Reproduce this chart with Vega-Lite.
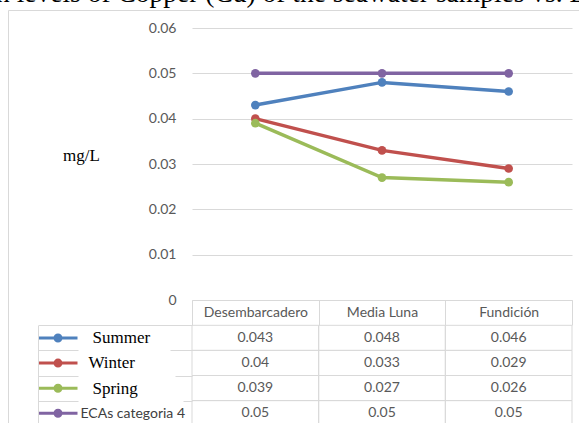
{
  "$schema": "https://vega.github.io/schema/vega-lite/v6.json",
  "width": 575,
  "height": 415,
  "autosize": "none",
  "padding": {"left": 8, "top": 10, "right": -4, "bottom": -2},
  "background": "white",
  "config": {"view": {"stroke": "#d9d9d9", "strokeWidth": 1}, "font": "Lato"},
  "title": {
    "text": "Concentration levels of Copper (Cu) of the seawater samples vs. ECAs",
    "anchor": "start",
    "frame": "group",
    "font": "Liberation Serif",
    "fontSize": 27.5,
    "fontWeight": "normal",
    "color": "#000000",
    "baseline": "alphabetic",
    "offset": 10,
    "dx": -154,
    "dy": 38
  },
  "data": {
    "values": [
      {"site": "Desembarcadero", "series": "Summer", "value": 0.043},
      {"site": "Media Luna", "series": "Summer", "value": 0.048},
      {"site": "Fundición", "series": "Summer", "value": 0.046},
      {"site": "Desembarcadero", "series": "Winter", "value": 0.04},
      {"site": "Media Luna", "series": "Winter", "value": 0.033},
      {"site": "Fundición", "series": "Winter", "value": 0.029},
      {"site": "Desembarcadero", "series": "Spring", "value": 0.039},
      {"site": "Media Luna", "series": "Spring", "value": 0.027},
      {"site": "Fundición", "series": "Spring", "value": 0.026},
      {"site": "Desembarcadero", "series": "ECAs categoria 4", "value": 0.05},
      {"site": "Media Luna", "series": "ECAs categoria 4", "value": 0.05},
      {"site": "Fundición", "series": "ECAs categoria 4", "value": 0.05}
    ]
  },
  "layer": [
    {
      "encoding": {
        "x": {
          "field": "site", "type": "nominal",
          "sort": ["Desembarcadero", "Media Luna", "Fundición"],
          "scale": {"type": "band", "range": [184, 564], "paddingInner": 0, "paddingOuter": 0},
          "axis": {
            "orient": "bottom", "offset": -125, "title": null,
            "domainColor": "#d9d9d9", "tickColor": "#d9d9d9", "tickSize": 25,
            "tickBand": "extent", "labelAngle": 0, "labelPadding": -12.5,
            "labelBaseline": "middle", "labelFont": "Lato", "labelFontSize": 14,
            "labelColor": "#595959", "grid": false, "labelOverlap": false
          }
        },
        "y": {
          "field": "value", "type": "quantitative",
          "scale": {"domain": [0, 0.06], "range": [290, 18], "nice": false},
          "axis": {
            "orient": "left", "offset": -184, "title": "mg/L", "titleAngle": 0,
            "titleFont": "Liberation Serif", "titleFontSize": 17,
            "titleFontWeight": "normal", "titleColor": "#000000",
            "titleX": -111, "titleY": 145, "titleAlign": "center", "titleBaseline": "middle",
            "values": [0, 0.01, 0.02, 0.03, 0.04, 0.05, 0.06], "format": "~g",
            "domain": false, "ticks": false, "labelPadding": 16,
            "labelFont": "Lato", "labelFontSize": 14, "labelColor": "#595959",
            "grid": true, "gridColor": "#d9d9d9"
          }
        },
        "color": {
          "field": "series", "type": "nominal",
          "sort": ["Summer", "Winter", "Spring", "ECAs categoria 4"],
          "scale": {
            "domain": ["Summer", "Winter", "Spring", "ECAs categoria 4"],
            "range": ["#4F81BD", "#C0504D", "#9BBB59", "#8064A2"]
          },
          "legend": {
            "orient": "none", "legendX": 23.5, "legendY": 315.5, "title": null,
            "padding": 0, "rowPadding": 0.1, "clipHeight": 25,
            "labelOpacity": 0, "labelFontSize": 12, "labelExpr": "''", "labelOffset": 40,
            "symbolOffset": 20,
            "symbolType": "M-3.9,0H3.9M-0.6,0A0.6,0.6,0,1,1,0.6,0A0.6,0.6,0,1,1,-0.6,0Z",
            "symbolSize": 100, "symbolStrokeWidth": 3, "symbolOpacity": 1
          }
        }
      },
      "layer": [
        {"mark": {"type": "line", "strokeWidth": 3.5}},
        {"mark": {"type": "point", "filled": true, "size": 75, "opacity": 1}}
      ]
    },
    {
      "encoding": {
        "x": {
          "field": "site", "type": "nominal",
          "sort": ["Desembarcadero", "Media Luna", "Fundición"],
          "scale": {"type": "band", "range": [184, 564], "paddingInner": 0, "paddingOuter": 0},
          "axis": {
            "orient": "bottom", "offset": -125, "title": null,
            "domainColor": "#d9d9d9", "tickColor": "#d9d9d9", "tickSize": 25,
            "tickBand": "extent", "labelAngle": 0, "labelPadding": -12.5,
            "labelBaseline": "middle", "labelFont": "Lato", "labelFontSize": 14,
            "labelColor": "#595959", "grid": false, "labelOverlap": false
          }
        },
        "y": {
          "field": "series", "type": "nominal",
          "sort": ["Summer", "Winter", "Spring", "ECAs categoria 4"],
          "scale": {
            "domain": ["Summer", "Winter", "Spring", "ECAs categoria 4"],
            "range": [315.3, 415.7], "paddingInner": 0, "paddingOuter": 0
          },
          "axis": {
            "orient": "left", "offset": -30, "title": null,
            "domain": true, "domainColor": "#d9d9d9",
            "ticks": true, "tickSize": -154, "tickBand": "extent", "tickColor": "#d9d9d9",
            "tickDash": {
              "condition": [
                {"test": "datum.value === 'Summer'", "value": [40, 92, 30]},
                {"test": "datum.value === 'Winter'", "value": [40, 97, 20]},
                {"test": "datum.value === 'Spring'", "value": [40, 105, 20]}
              ],
              "value": []
            },
            "labelAlign": "left", "labelBaseline": "middle",
            "labelPadding": {
              "condition": [
                {"test": "datum.value === 'Winter'", "value": 104},
                {"test": "datum.value === 'ECAs categoria 4'", "value": 112}
              ],
              "value": 100
            },
            "labelFont": {
              "condition": {"test": "datum.value === 'ECAs categoria 4'", "value": "Lato"},
              "value": "Liberation Serif"
            },
            "labelFontSize": {
              "condition": {"test": "datum.value === 'ECAs categoria 4'", "value": 14},
              "value": 17
            },
            "labelColor": {
              "condition": {"test": "datum.value === 'ECAs categoria 4'", "value": "#404040"},
              "value": "#000000"
            },
            "labelLimit": 0, "grid": false
          }
        }
      },
      "layer": [
        {"mark": {"type": "rect", "fill": "transparent", "stroke": "#d9d9d9", "strokeWidth": 1}},
        {
          "mark": {"type": "text", "font": "Lato", "fontSize": 14, "color": "#595959", "align": "center", "baseline": "middle"},
          "encoding": {"text": {"field": "value", "type": "quantitative", "format": "~g"}}
        }
      ]
    }
  ],
  "resolve": {"scale": {"y": "independent"}, "axis": {"y": "independent"}}
}
